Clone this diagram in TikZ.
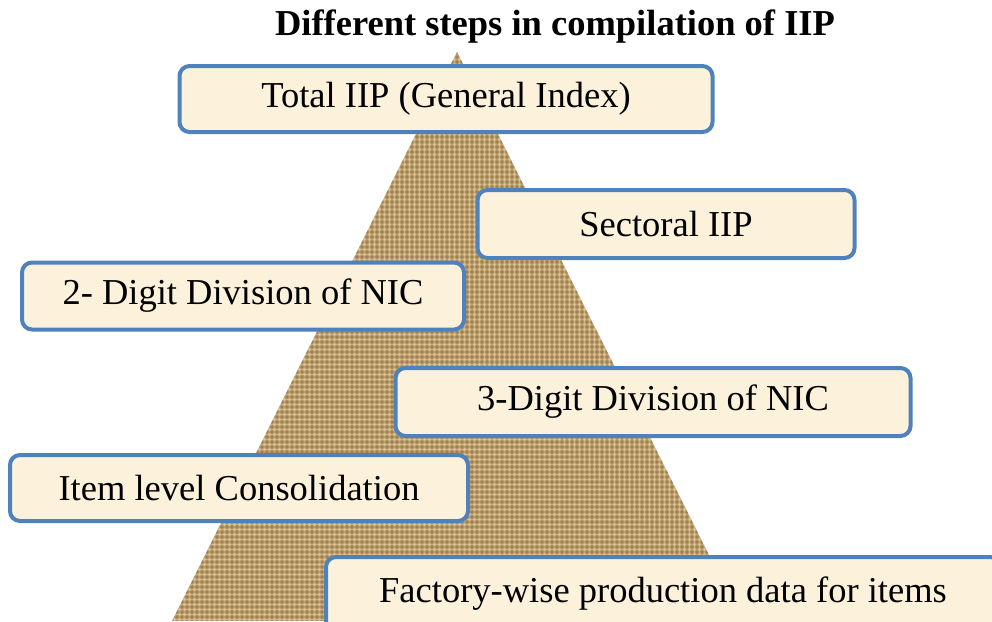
\documentclass[tikz,border=0pt]{standalone}
\usepackage{fontspec}
\setmainfont{Liberation Serif}
\usepackage{tikz}

\definecolor{boxblue}{RGB}{79,129,189}
\definecolor{boxcream}{RGB}{252,242,220}
\definecolor{burlap}{RGB}{196,166,116}
\definecolor{burlapdark}{RGB}{125,96,55}
\definecolor{burlaplight}{RGB}{232,210,158}

\tikzset{
  stagebox/.style={draw=boxblue, line width=4pt, fill=boxcream, rounded corners=10pt,
    inner sep=0pt, align=center, font=\fontsize{36.5}{44}\selectfont},
  weavedark/.style={draw=burlapdark, line width=1.2pt, opacity=0.3},
  weavelight/.style={draw=burlaplight, line width=1pt, opacity=0.5}
}

\begin{document}
\begin{tikzpicture}[x=1pt, y=-1pt]
\useasboundingbox (0,0) rectangle (992,621);
% pyramid
\begin{scope}
\clip (457,52) -- (742,621) -- (172,621) -- cycle;
\fill[burlap] (172,52) rectangle (742,621);
\foreach \k in {0,5,...,570}
	{\draw[weavedark] (172+\k,52) -- (172+\k,621);
	 \draw[weavedark] (172,52+\k) -- (742,52+\k);
	 \draw[weavelight] (174.5+\k,52) -- (174.5+\k,621);
	 \draw[weavelight] (172,54.5+\k) -- (742,54.5+\k);}
\end{scope}
\node (title) at (555,27) {\fontsize{36.5}{44}\selectfont\bfseries Different steps in compilation of IIP};
% stages
\node[stagebox, minimum width=533pt, minimum height=66pt] (total) at (446,99) {Total IIP (General Index)};
\node[stagebox, minimum width=377pt, minimum height=68pt] (sectoral) at (666,224) {Sectoral IIP};
\node[stagebox, minimum width=442pt, minimum height=67pt] (twodigit) at (243,296) {2- Digit Division of NIC};
\node[stagebox, minimum width=515pt, minimum height=68pt] (threedigit) at (653,402) {3-Digit Division of NIC};
\node[stagebox, minimum width=458pt, minimum height=66pt] (item) at (239,488) {Item level Consolidation};
\node[stagebox, minimum width=674pt, minimum height=74pt] (factory) at (663,594) {Factory-wise production data for items};
\end{tikzpicture}
\end{document}
